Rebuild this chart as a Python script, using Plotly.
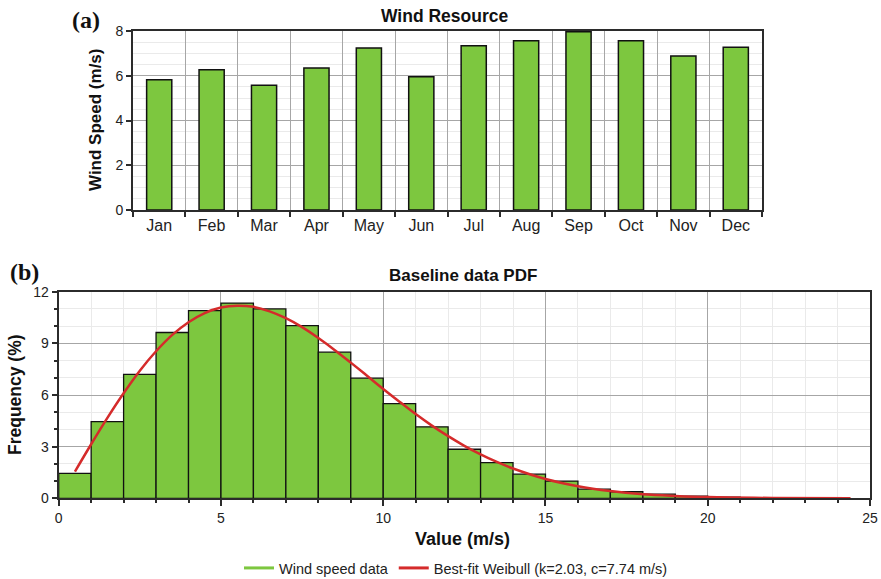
import plotly.graph_objects as go

# ---- data: panel (a) monthly mean wind speed ----
months = ["Jan", "Feb", "Mar", "Apr", "May", "Jun", "Jul", "Aug", "Sep", "Oct", "Nov", "Dec"]
monthly_speed = [5.82, 6.27, 5.58, 6.35, 7.24, 5.95, 7.34, 7.56, 7.97, 7.56, 6.88, 7.27]

# ---- data: panel (b) histogram (1 m/s bins) ----
bin_centers = [0.5, 1.5, 2.5, 3.5, 4.5, 5.5, 6.5, 7.5, 8.5, 9.5, 10.5,
               11.5, 12.5, 13.5, 14.5, 15.5, 16.5, 17.5, 18.5, 19.5, 20.5]
bin_freq = [1.45, 4.45, 7.2, 9.63, 10.9, 11.34, 11.0, 10.03, 8.49, 6.98, 5.5,
            4.15, 2.85, 2.07, 1.4, 1.0, 0.53, 0.38, 0.24, 0.12, 0.06]

# ---- data: panel (b) best-fit Weibull curve ----
curve_x = [0.5, 1.0, 1.5, 2.0, 2.5, 3.0, 3.5, 4.0, 4.5, 5.0, 5.5, 6.0, 6.5, 7.0,
           7.5, 8.0, 8.5, 9.0, 9.5, 10.0, 10.5, 11.0, 11.5, 12.0, 12.5, 13.0,
           13.5, 14.0, 15.0, 16.0, 17.0, 18.0, 19.0, 20.0, 22.0, 24.4]
curve_y = [1.55, 3.14, 4.67, 6.1, 7.41, 8.54, 9.49, 10.23, 10.76, 11.08, 11.19,
           11.12, 10.86, 10.46, 9.94, 9.31, 8.62, 7.88, 7.12, 6.35, 5.61, 4.89,
           4.22, 3.61, 3.05, 2.55, 2.11, 1.73, 1.12, 0.7, 0.42, 0.24, 0.14,
           0.07, 0.02, 0.0]

bar_label = "Wind speed data"
curve_label = "Best-fit Weibull (k=2.03, c=7.74 m/s)"

GREEN = "#7DC73F"
RED = "#D52B2B"
MAJOR = "#A6A6A6"
MINOR = "#EAEAEA"
AXIS = "#2B2B2B"
FONT = "Liberation Sans, Arial, sans-serif"

W, H = 881, 579


def px(x):
    return x / W


def py(y):
    return 1 - y / H


fig = go.Figure()

fig.add_trace(go.Bar(
    x=months, y=monthly_speed, width=0.48,
    marker=dict(color=GREEN, line=dict(color="#111111", width=1.5)),
    xaxis="x", yaxis="y", showlegend=False, hoverinfo="x+y"))

fig.add_trace(go.Bar(
    x=bin_centers, y=bin_freq, width=1.0,
    marker=dict(color=GREEN, line=dict(color="#111111", width=1.3)),
    xaxis="x2", yaxis="y2", showlegend=False))

fig.add_trace(go.Scatter(
    x=curve_x, y=curve_y, mode="lines", line=dict(color=RED, width=2.5, shape="spline"),
    xaxis="x2", yaxis="y2", showlegend=False))

# legend-only entries (line symbols as in the reference)
fig.add_trace(go.Scatter(x=[None], y=[None], mode="lines", name=bar_label,
                         line=dict(color=GREEN, width=3), xaxis="x2", yaxis="y2"))
fig.add_trace(go.Scatter(x=[None], y=[None], mode="lines", name=curve_label,
                         line=dict(color=RED, width=3), xaxis="x2", yaxis="y2"))

common_axis = dict(showline=True, linecolor=AXIS, linewidth=2, mirror=True,
                   ticks="outside", tickcolor=AXIS, zeroline=False,
                   gridcolor=MAJOR, gridwidth=1, automargin=False)

fig.update_layout(
    width=W, height=H,
    margin=dict(l=0, r=0, t=0, b=0, autoexpand=False),
    paper_bgcolor="white", plot_bgcolor="white",
    font=dict(family=FONT, color="#1a1a1a"),
    barmode="overlay",
    xaxis=dict(domain=[px(133), px(762)], anchor="y", type="category",
               tickson="boundaries", ticklen=5, tickwidth=1.5,
               tickfont=dict(size=16, color="#222"), **common_axis),
    yaxis=dict(domain=[py(210), py(31)], anchor="x", range=[0, 8], dtick=2,
               ticklen=5, tickwidth=1.5, tickfont=dict(size=14, color="#222"),
               minor=dict(dtick=0.5, showgrid=True, gridcolor=MINOR, ticks=""),
               **common_axis),
    xaxis2=dict(domain=[px(58.7), px(870)], anchor="y2", range=[0, 25], dtick=5,
                ticklen=6, tickwidth=1.5, tickfont=dict(size=14, color="#222"),
                minor=dict(dtick=1, showgrid=True, gridcolor=MINOR, ticks="outside",
                           ticklen=3, tickcolor=AXIS),
                **common_axis),
    yaxis2=dict(domain=[py(498.3), py(291.7)], anchor="x2", range=[0, 12], dtick=3,
                ticklen=5, tickwidth=1.5, tickfont=dict(size=14, color="#222"),
                minor=dict(dtick=1, showgrid=True, gridcolor=MINOR, ticks="outside",
                           ticklen=3, tickcolor=AXIS),
                **common_axis),
    legend=dict(orientation="h", x=px(456), xanchor="center", y=py(568),
                yanchor="middle", font=dict(size=14.5, color="#222"),
                bgcolor="rgba(0,0,0,0)", itemwidth=30, traceorder="normal"),
    showlegend=True,
)

SERIF = "Liberation Serif, Times New Roman, serif"


def label(text, x, y, size, angle=0, family=None):
    f = dict(size=size, color="#111")
    if family:
        f["family"] = family
    return dict(text=text, x=px(x), y=py(y), xref="paper", yref="paper",
                xanchor="center", yanchor="middle", showarrow=False,
                textangle=angle, font=f)


ann = [
    label("<b>(a)</b>", 86, 20, 24, family=SERIF),
    label("<b>(b)</b>", 24, 272, 24, family=SERIF),
    label("<b>Wind Resource</b>", 444, 16, 17.5),
    label("<b>Baseline data PDF</b>", 463, 275, 17),
    label("<b>Wind Speed (m/s)</b>", 96, 120, 17, angle=-90),
    label("<b>Frequency (%)</b>", 15, 395, 17.5, angle=-90),
    label("<b>Value (m/s)</b>", 462, 539, 18),
]
fig.update_layout(annotations=ann)

fig.write_html("out.html", config={"displayModeBar": False},
               post_script="document.body.style.margin='0px';")
